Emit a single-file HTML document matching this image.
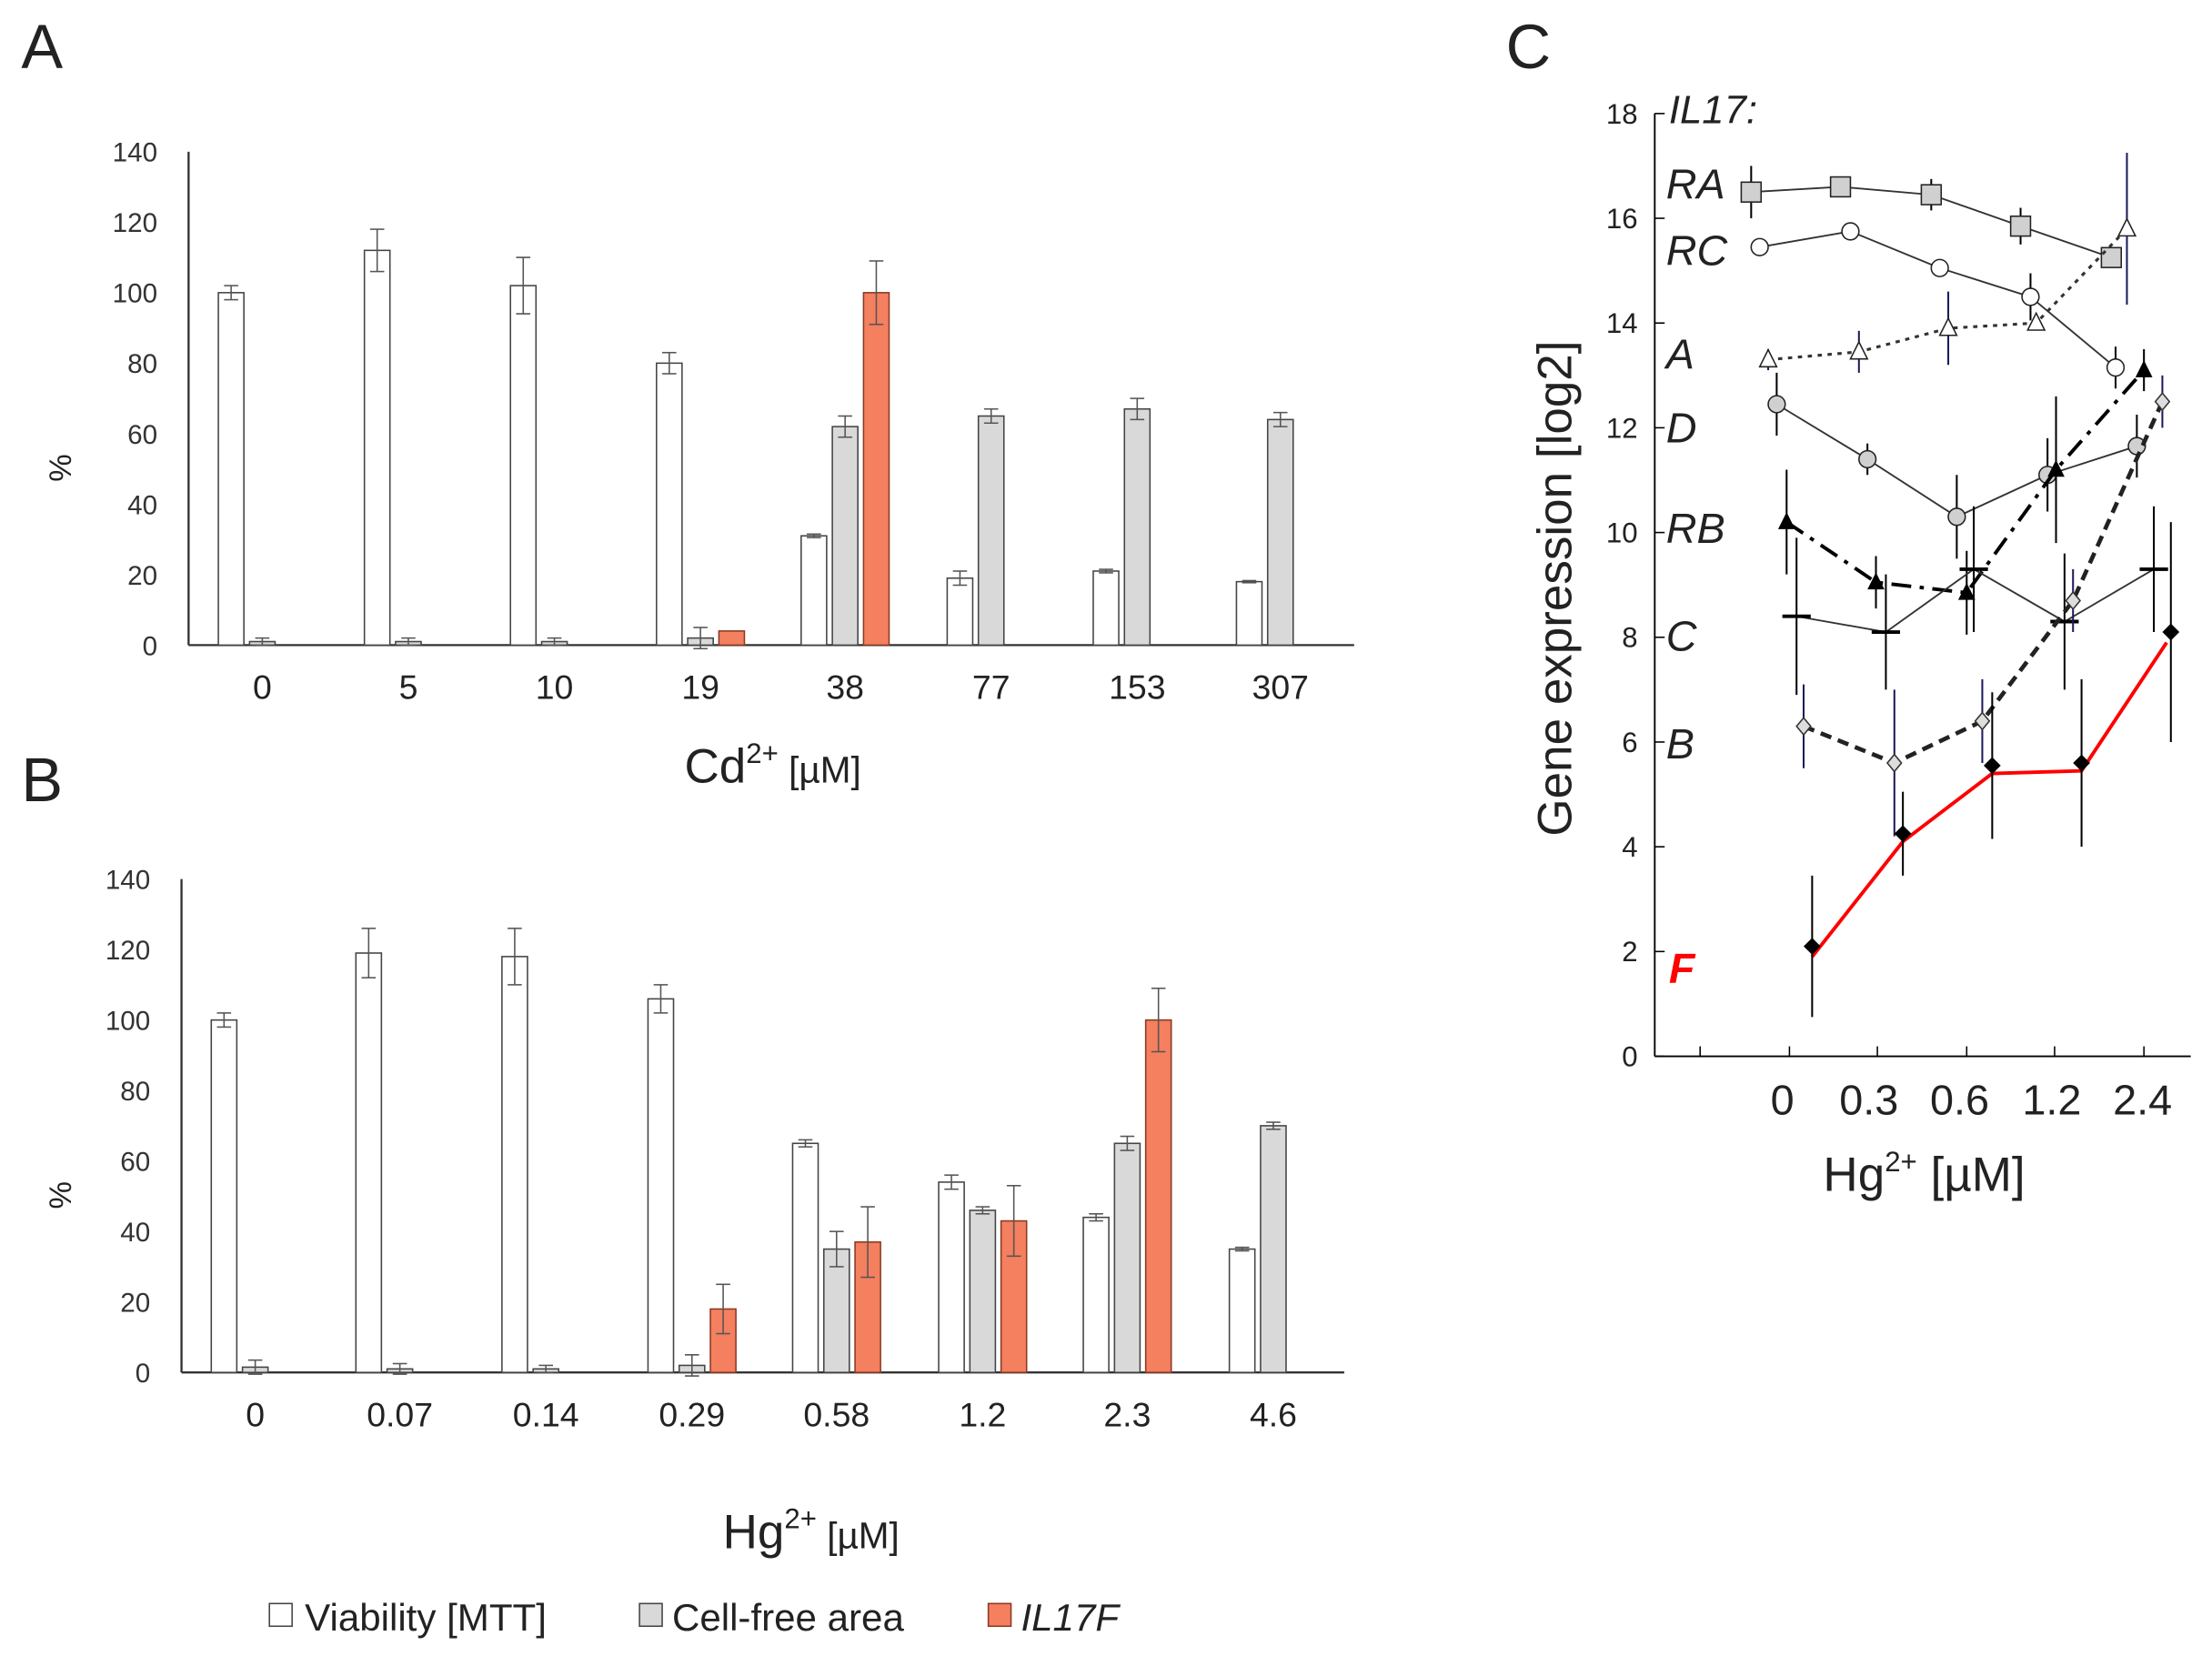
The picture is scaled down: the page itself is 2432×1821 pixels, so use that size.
<!DOCTYPE html>
<html><head><meta charset="utf-8"><style>
html,body{margin:0;padding:0;background:#fff;}
svg{display:block;}
text{font-family:"Liberation Sans",sans-serif;fill:#222;}
</style></head><body>
<svg id="s" width="2432" height="1821" viewBox="0 0 1560 1168" preserveAspectRatio="none" xmlns="http://www.w3.org/2000/svg"></svg>
<script>
var s=document.getElementById('s');var o='';
function L(x1,y1,x2,y2,c,w,d){o+='<line x1="'+x1+'" y1="'+y1+'" x2="'+x2+'" y2="'+y2+'" stroke="'+(c||'#000')+'" stroke-width="'+(w||1)+'"'+(d?' stroke-dasharray="'+d+'"':'')+'/>';}
function T(x,y,t,sz,a,ex){o+='<text x="'+x+'" y="'+y+'" font-size="'+sz+'" text-anchor="'+(a||'start')+'" '+(ex||'')+'>'+t+'</text>';}
T(15,48,'A',44);T(15,565,'B',44);T(1062,48,'C',44);
function bar(ax,y0,ymax,xend,groups,labels,ty,title,titleCenter,titleY,tsym){
  var sc=(y0-ymax)/140;
  L(ax,ymax,ax,y0,'#333',1.5);L(ax,y0,xend,y0,'#333',1.5);
  for(var v=0;v<=140;v+=20)T(ax-22,y0-v*sc+7,v,19,'end','style="fill:#333"');
  groups.forEach(function(g,i){
    var c=g[0];
    var cols=['#fff','#d9d9d9','#f4805f'];
    for(var k=0;k<3;k++){var d=g[k+1];if(!d)continue;var x=c-22+22*k-9,h=d[0]*sc;
      o+='<rect x="'+x+'" y="'+(y0-h)+'" width="18" height="'+h+'" fill="'+cols[k]+'" stroke="'+(k==2?'#8a3a25':'#444')+'" stroke-width="1"/>';
      var e=d[1]*sc,cx=x+9;if(e>0){L(cx,y0-h-e,cx,y0-h+e,'#555',1);L(cx-5,y0-h-e,cx+5,y0-h-e,'#555',1);L(cx-5,y0-h+e,cx+5,y0-h+e,'#555',1);}
    }
    T(c,ty,labels[i],24,'middle');
  });
  T(titleCenter,titleY,tsym+'<tspan font-size="20" dy="-14">2+</tspan><tspan font-size="26" dy="14"> [µM]</tspan>',34,'middle');
  T(50,y0-125,'%',22,'middle','transform="rotate(-90 50 '+(y0-125)+')"');
}
var xa=[185,288,391,494,596,699,802,903];
bar(133,455,107,955,[
[xa[0],[100,2],[1,1]],[xa[1],[112,6],[1,1]],[xa[2],[102,8],[1,1]],[xa[3],[80,3],[2,3],[4,0]],
[xa[4],[31,0.5],[62,3],[100,9]],[xa[5],[19,2],[65,2]],[xa[6],[21,0.5],[67,3]],[xa[7],[18,0.3],[64,2]]],
['0','5','10','19','38','77','153','307'],493,'',545,552,'Cd');
var xb=[180,282,385,488,590,693,795,898];
bar(128,968,620,948,[
[xb[0],[100,2],[1.5,2]],[xb[1],[119,7],[1,1.5]],[xb[2],[118,8],[1,1]],[xb[3],[106,4],[2,3],[18,7]],
[xb[4],[65,1],[35,5],[37,10]],[xb[5],[54,2],[46,1],[43,10]],[xb[6],[44,1],[65,2],[100,9]],[xb[7],[35,0.5],[70,1]]],
['0','0.07','0.14','0.29','0.58','1.2','2.3','4.6'],1006,'',572,1092,'Hg');
o+='<rect x="190" y="1131" width="16" height="16" fill="#fff" stroke="#444"/>';T(215,1150,'Viability [MTT]',27);
o+='<rect x="451" y="1131" width="16" height="16" fill="#d9d9d9" stroke="#444"/>';T(474,1150,'Cell-free area',27);
o+='<rect x="697" y="1131" width="16" height="16" fill="#f4805f" stroke="#8a3a25"/>';T(720,1150,'IL17F',27,'start','font-style="italic"');
function Y(v){return 745-v*36.94;}
L(1167,80,1167,745,'#000',1.2);L(1167,745,1545,745,'#000',1.2);
for(var v=0;v<=18;v+=2){L(1167,Y(v),1174,Y(v),'#000',1);T(1155,Y(v)+7,v,20,'end');}
[1199,1262,1324,1387,1449,1512].forEach(function(x){L(x,745,x,738,'#000',1);});
[['0',1257],['0.3',1318],['0.6',1382],['1.2',1447],['2.4',1511]].forEach(function(a){T(a[1],786,a[0],30,'middle');});
T(1357,840,'Hg<tspan font-size="20" dy="-14">2+</tspan><tspan dy="14"> [µM]</tspan>',34,'middle');
T(1108,415,'Gene expression [log2]',34,'middle','transform="rotate(-90 1108 415)"');
T(1177,87,'IL17:',28,'start','font-style="italic"');
[['RA',140],['RC',187],['A',260],['D',312],['RB',383],['C',459],['B',535]].forEach(function(a){T(1175,a[1],a[0],30,'start','font-style="italic"');});
T(1177,693,'F',30,'start','font-style="italic" style="fill:#f00;font-weight:bold"');
var DX=-5;
function series(pts,dash,col,w,mk,ecol){
  var p=pts.map(function(q){return (q[0]+DX)+','+Y(q[1]);}).join(' ');
  o+='<polyline points="'+p+'" fill="none" stroke="'+col+'" stroke-width="'+w+'"'+(dash?' stroke-dasharray="'+dash+'"':'')+'/>';
  pts.forEach(function(q){var x=q[0]+DX,y=Y(q[1]),e=q[2]*36.94;
    L(x,y-e,x,y+e,ecol||'#000',1.3);
    if(mk=='sq')o+='<rect x="'+(x-7)+'" y="'+(y-7)+'" width="14" height="14" fill="#d0d0d0" stroke="#222"/>';
    if(mk=='co')o+='<circle cx="'+x+'" cy="'+y+'" r="6" fill="#fff" stroke="#222"/>';
    if(mk=='cg')o+='<circle cx="'+x+'" cy="'+y+'" r="6" fill="#d0d0d0" stroke="#222"/>';
    if(mk=='tr')o+='<polygon points="'+x+','+(y-7)+' '+(x-6)+','+(y+5)+' '+(x+6)+','+(y+5)+'" fill="#fff" stroke="#222"/>';
    if(mk=='tb')o+='<polygon points="'+x+','+(y-7)+' '+(x-6)+','+(y+5)+' '+(x+6)+','+(y+5)+'" fill="#000"/>';
    if(mk=='hd')L(x-10,y,x+10,y,'#000',2.5);
    if(mk=='dg')o+='<polygon points="'+x+','+(y-6)+' '+(x+5)+','+y+' '+x+','+(y+6)+' '+(x-5)+','+y+'" fill="#ddd" stroke="#333"/>';
  });
}
series([[1240,16.5,0.5],[1303,16.6,0.1],[1367,16.45,0.3],[1430,15.85,0.35],[1494,15.25,0.1]],null,'#333',1.2,'sq');
series([[1246,15.45,0.1],[1310,15.75,0.1],[1373,15.05,0.1],[1437,14.5,0.45],[1497,13.15,0.4]],null,'#333',1.2,'co');
series([[1252,13.3,0.2],[1316,13.45,0.4],[1379,13.9,0.7],[1441,14.0,0.1],[1505,15.8,1.45]],'3,4','#333',2,'tr','#1a1a5a');
series([[1258,12.45,0.6],[1322,11.4,0.3],[1385,10.3,0.8],[1449,11.1,0.7],[1512,11.65,0.6]],null,'#333',1.2,'cg');
series([[1265,10.2,1],[1328,9.05,0.5],[1392,8.85,0.8],[1455,11.2,1.4],[1517,13.1,0.4]],'14,6,3,6','#000',2.5,'tb');
series([[1272,8.4,1.5],[1335,8.1,1.1],[1397,9.3,1.2],[1461,8.3,1.3],[1524,9.3,1.2]],null,'#333',1.2,'hd');
series([[1277,6.3,0.8],[1341,5.6,1.4],[1403,6.4,0.8],[1467,8.7,0.6],[1530,12.5,0.5]],'8,5','#222',3,'dg','#1a1a5a');
o+='<polyline points="'+(1283+DX)+','+Y(1.9)+' '+(1347+DX)+','+Y(4.1)+' '+(1410+DX)+','+Y(5.4)+' '+(1473+DX)+','+Y(5.45)+' '+(1533+DX)+','+Y(7.9)+'" fill="none" stroke="#f00" stroke-width="2.5"/>';
[[1283,2.1,1.35],[1347,4.25,0.8],[1410,5.55,1.4],[1473,5.6,1.6],[1536,8.1,2.1]].forEach(function(q){var x=q[0]+DX,y=Y(q[1]),e=q[2]*36.94;L(x,y-e,x,y+e,'#000',1.3);o+='<polygon points="'+x+','+(y-6)+' '+(x+6)+','+y+' '+x+','+(y+6)+' '+(x-6)+','+y+'" fill="#000"/>';});
s.innerHTML=o;
</script>
</body></html>
